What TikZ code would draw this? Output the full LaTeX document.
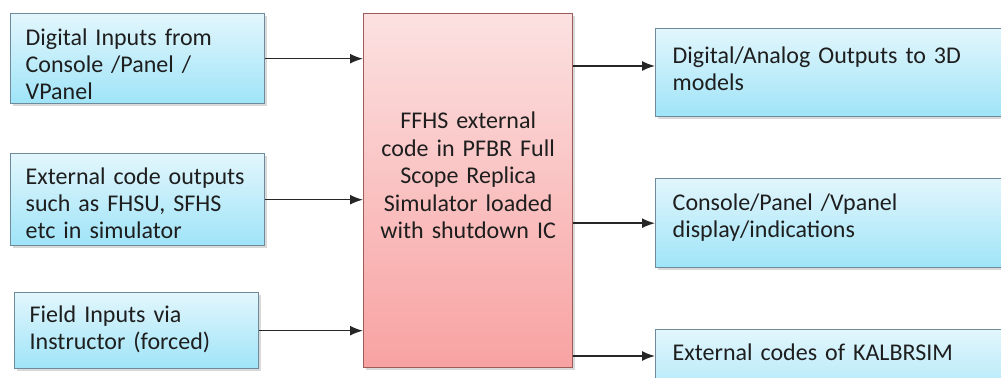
\documentclass[tikz,border=0pt]{standalone}
\usepackage{fontspec}
\setmainfont{Carlito}
\usetikzlibrary{arrows.meta,shadows}

\definecolor{bluetop}{HTML}{E2F6FC}
\definecolor{bluebot}{HTML}{9FE4F8}
\definecolor{blueline}{HTML}{6D8B9B}
\definecolor{redtop}{HTML}{FCE1E1}
\definecolor{redbot}{HTML}{F8A2A2}
\definecolor{redline}{HTML}{9C5C5C}
\definecolor{inktext}{HTML}{1E1E1E}

\tikzset{
  bluebox/.style={draw=blueline, line width=0.7pt, top color=bluetop, bottom color=bluebot,
    drop shadow={shadow xshift=1.2pt, shadow yshift=-1.2pt, opacity=0.3},
    anchor=north west, inner xsep=7.5pt, inner ysep=0pt, align=left, text=inktext,
    font=\fontsize{12}{13.5}\selectfont},
  corebox/.style={draw=redline, line width=0.7pt, top color=redtop, bottom color=redbot,
    drop shadow={shadow xshift=1.2pt, shadow yshift=-1.2pt, opacity=0.3},
    anchor=north west, inner xsep=5pt, inner ysep=0pt, align=center, text=inktext,
    font=\fontsize{12}{13.75}\selectfont},
  flow/.style={draw=black!85, line width=0.75pt, -{Latex[length=6.5pt,width=5pt]}}
}

\begin{document}
\begin{tikzpicture}[x=0.5pt,y=-0.5pt]
    \useasboundingbox (0,0) rectangle (1001,378);
    \clip (0,0) rectangle (1001,378);

    % inputs
    \node[bluebox, text width=112pt, text height=16pt, text depth=29pt] (dig) at (10,13) {Digital Inputs from\\Console /Panel /\\VPanel};
    \node[bluebox, text width=112pt, text height=15.5pt, text depth=30.5pt] (ext) at (10,153) {External code outputs\\such as FHSU, SFHS\\etc in simulator};
    \node[bluebox, text width=107pt, text height=15pt, text depth=23pt] (fld) at (14,292) {Field Inputs via\\Instructor (forced)};

    % simulator
    \node[corebox, text width=94.5pt, text height=57.5pt, text depth=119.5pt] (sim) at (363,13) {FFHS external\\code in PFBR Full\\Scope Replica\\Simulator loaded\\with shutdown IC};

    % outputs
    \node[bluebox, inner xsep=8.5pt, text width=168pt, text height=17.5pt, text depth=26.5pt] (ana) at (655,28) {Digital/Analog Outputs to 3D\\models};
    \node[bluebox, inner xsep=8.5pt, text width=168pt, text height=16pt, text depth=28.5pt] (pnl) at (655,178) {Console/Panel /Vpanel\\display/indications};
    \node[bluebox, inner xsep=8.5pt, text width=168pt, text height=15.5pt, text depth=28.5pt] (kal) at (655,329) {External codes of KALBRSIM};

    \draw[flow] (dig.east) -- (dig.east -| sim.west);
    \draw[flow] (ext.east) -- (ext.east -| sim.west);
    \draw[flow] (fld.east) -- (fld.east -| sim.west);

    \coordinate (anain) at ([yshift=-19pt]ana.north west);
    \coordinate (kalin) at ([yshift=-13.5pt]kal.north west);
    \draw[flow] (sim.east |- anain) -- (anain);
    \draw[flow] (sim.east |- pnl.west) -- (pnl.west);
    \draw[flow] (sim.east |- kalin) -- (kalin);
\end{tikzpicture}
\end{document}
